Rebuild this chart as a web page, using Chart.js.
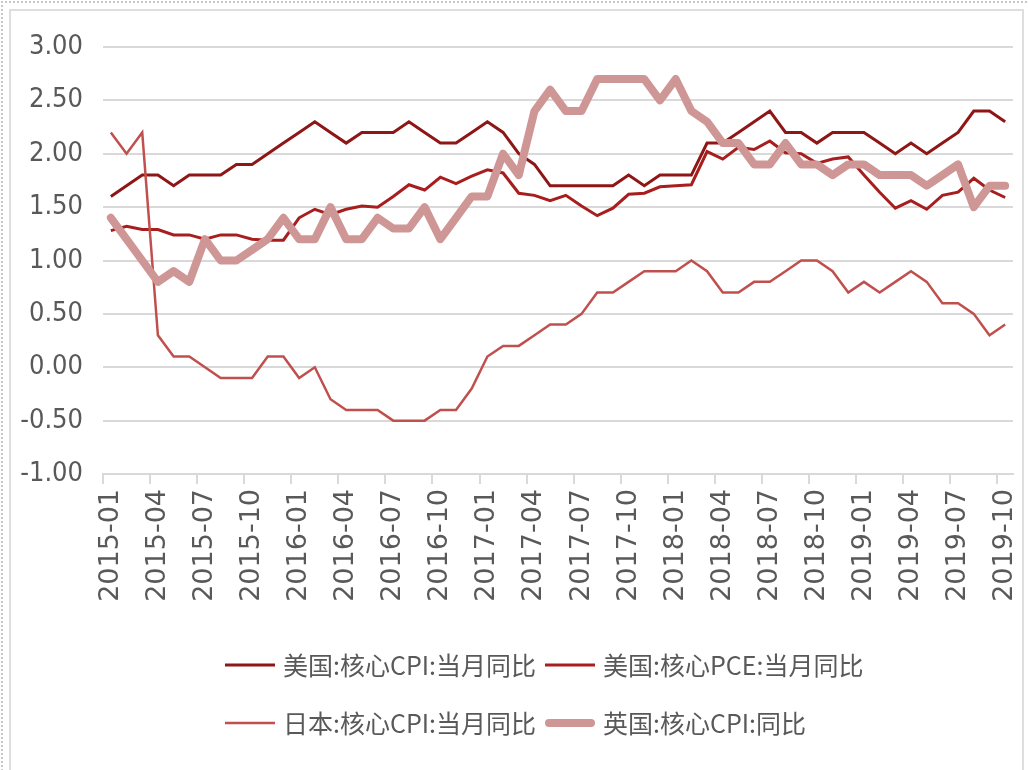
<!DOCTYPE html>
<html><head><meta charset="utf-8">
<script src="https://cdn.jsdelivr.net/npm/chart.js@4.4.1/dist/chart.umd.min.js"></script>
<style>
html,body{margin:0;padding:0;background:#fff;}
#wrap{position:relative;width:1028px;height:770px;overflow:hidden;background:#fff;}
#dots{position:absolute;left:1px;top:1px;width:1040px;height:800px;border-top:2px dotted #c8c8c8;border-left:2px dotted #c8c8c8;}
#frame{position:absolute;left:9px;top:9px;width:1011px;height:780px;border:2px solid #dedede;}
canvas{position:absolute;left:0;top:0;}
</style></head><body>
<div id="wrap"><div id="dots"></div><div id="frame"></div><canvas id="c" width="1028" height="770"></canvas></div>
<script>
const months = [
 '2015-01','2015-02','2015-03','2015-04','2015-05','2015-06','2015-07','2015-08','2015-09','2015-10','2015-11','2015-12',
 '2016-01','2016-02','2016-03','2016-04','2016-05','2016-06','2016-07','2016-08','2016-09','2016-10','2016-11','2016-12',
 '2017-01','2017-02','2017-03','2017-04','2017-05','2017-06','2017-07','2017-08','2017-09','2017-10','2017-11','2017-12',
 '2018-01','2018-02','2018-03','2018-04','2018-05','2018-06','2018-07','2018-08','2018-09','2018-10','2018-11','2018-12',
 '2019-01','2019-02','2019-03','2019-04','2019-05','2019-06','2019-07','2019-08','2019-09','2019-10'
];
const usCoreCPI = [
 1.6,1.7,1.8,1.8,1.7,1.8,1.8,1.8,1.9,1.9,2.0,2.1,
 2.2,2.3,2.2,2.1,2.2,2.2,2.2,2.3,2.2,2.1,2.1,2.2,
 2.3,2.2,2.0,1.9,1.7,1.7,1.7,1.7,1.7,1.8,1.7,1.8,
 1.8,1.8,2.1,2.1,2.2,2.3,2.4,2.2,2.2,2.1,2.2,2.2,
 2.2,2.1,2.0,2.1,2.0,2.1,2.2,2.4,2.4,2.3
];
const usCorePCE = [
 1.28,1.32,1.29,1.29,1.24,1.24,1.20,1.24,1.24,1.20,1.19,1.19,
 1.40,1.48,1.43,1.48,1.51,1.50,1.60,1.71,1.66,1.78,1.72,1.79,
 1.85,1.82,1.63,1.61,1.56,1.61,1.51,1.42,1.49,1.62,1.63,1.69,
 1.70,1.71,2.02,1.95,2.06,2.04,2.12,2.01,2.00,1.91,1.95,1.97,
 1.80,1.64,1.49,1.56,1.48,1.61,1.64,1.77,1.66,1.59
];
const jpCoreCPI = [
 2.2,2.0,2.2,0.3,0.1,0.1,0.0,-0.1,-0.1,-0.1,0.1,0.1,
 -0.1,0.0,-0.3,-0.4,-0.4,-0.4,-0.5,-0.5,-0.5,-0.4,-0.4,-0.2,
 0.1,0.2,0.2,0.3,0.4,0.4,0.5,0.7,0.7,0.8,0.9,0.9,
 0.9,1.0,0.9,0.7,0.7,0.8,0.8,0.9,1.0,1.0,0.9,0.7,
 0.8,0.7,0.8,0.9,0.8,0.6,0.6,0.5,0.3,0.4
];
const ukCoreCPI = [
 1.4,1.2,1.0,0.8,0.9,0.8,1.2,1.0,1.0,1.1,1.2,1.4,
 1.2,1.2,1.5,1.2,1.2,1.4,1.3,1.3,1.5,1.2,1.4,1.6,
 1.6,2.0,1.8,2.4,2.6,2.4,2.4,2.7,2.7,2.7,2.7,2.5,
 2.7,2.4,2.3,2.1,2.1,1.9,1.9,2.1,1.9,1.9,1.8,1.9,
 1.9,1.8,1.8,1.8,1.7,1.8,1.9,1.5,1.7,1.7
];
const seriesNames = ['美国:核心CPI:当月同比','美国:核心PCE:当月同比','日本:核心CPI:当月同比','英国:核心CPI:同比'];
const yTicks = [-1, -0.5, 0, 0.5, 1, 1.5, 2, 2.5, 3];

const TXT = '#595959';
const GRID = '#d9d9d9';

const legendPlugin = {
  id: 'gridLegend',
  afterDraw(chart) {
    const ctx = chart.ctx;
    const cols = [225, 545], rows = [665, 723];
    chart.data.datasets.forEach((ds, i) => {
      const x = cols[i % 2], y = rows[Math.floor(i / 2)];
      ctx.save();
      ctx.strokeStyle = ds.borderColor;
      ctx.lineWidth = ds.borderWidth;
      ctx.lineCap = ds.borderCapStyle || 'butt';
      const inset = ds.borderCapStyle === 'round' ? ds.borderWidth / 2 : 0;
      ctx.beginPath();
      ctx.moveTo(x + inset, y);
      ctx.lineTo(x + 50 - inset, y);
      ctx.stroke();
      ctx.fillStyle = TXT;
      ctx.font = '25px "Noto Sans CJK SC", sans-serif';
      ctx.textBaseline = 'middle';
      ctx.fillText(ds.label, x + 58, y);
      ctx.restore();
    });
  }
};

new Chart(document.getElementById('c'), {
  type: 'line',
  data: {
    labels: months,
    datasets: [
      { label: seriesNames[0], data: usCoreCPI, borderColor: '#8E1616', borderWidth: 3, order: 4 },
      { label: seriesNames[1], data: usCorePCE, borderColor: '#A81E1E', borderWidth: 3, order: 3 },
      { label: seriesNames[2], data: jpCoreCPI, borderColor: '#C0504D', borderWidth: 2.5, order: 2 },
      { label: seriesNames[3], data: ukCoreCPI, borderColor: '#CF9696', borderWidth: 8, borderCapStyle: 'round', borderJoinStyle: 'round', order: 1 }
    ]
  },
  options: {
    responsive: false,
    animation: false,
    events: [],
    elements: { point: { radius: 0 }, line: { tension: 0, fill: false } },
    layout: { padding: { left: 0, right: 15, top: 47, bottom: 0 } },
    plugins: { legend: { display: false }, tooltip: { enabled: false } },
    scales: {
      x: {
        type: 'category',
        offset: true,
        afterFit(scale) { scale.height = 296; scale.paddingLeft = 0; scale.paddingRight = 0; },
        grid: {
          offset: true,
          drawOnChartArea: false,
          drawTicks: true,
          tickLength: 10,
          lineWidth: 2,
          color: (c) => (c.index % 3 === 0 ? GRID : 'rgba(0,0,0,0)')
        },
        border: { display: true, color: GRID, width: 2 },
        ticks: {
          autoSkip: false,
          minRotation: 90,
          maxRotation: 90,
          padding: 5,
          color: TXT,
          font: { family: '"DejaVu Sans", sans-serif', size: 27 },
          callback: function (v, i) { return i % 3 === 0 ? months[i] : ''; }
        }
      },
      y: {
        min: -1,
        max: 3,
        afterFit(scale) { scale.width = 103; },
        afterBuildTicks(scale) { scale.ticks = yTicks.map(v => ({ value: v })); },
        grid: { color: GRID, lineWidth: 2, drawTicks: false },
        border: { display: false },
        ticks: {
          padding: 20,
          color: TXT,
          font: { family: '"Liberation Sans Narrow", "DejaVu Sans Condensed", sans-serif', size: 27 },
          callback: (v) => Number(v).toFixed(2)
        }
      }
    }
  },
  plugins: [legendPlugin]
});
</script>
</body></html>
